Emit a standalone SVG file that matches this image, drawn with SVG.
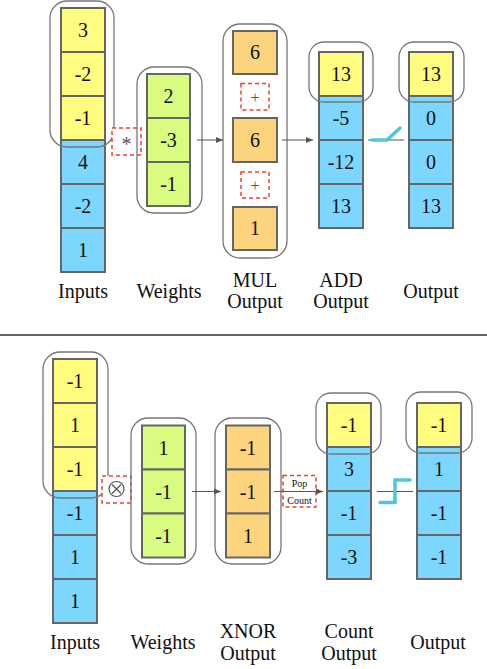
<svg xmlns="http://www.w3.org/2000/svg" width="487" height="669" viewBox="0 0 487 669" font-family="'Liberation Serif', 'Times New Roman', serif">
<defs>
<marker id="arr" markerWidth="8" markerHeight="8" refX="7" refY="4" orient="auto" markerUnits="userSpaceOnUse">
<path d="M0,1 L7,4 L0,7 Z" fill="#555"/>
</marker>
<style>
text{fill:#111;}
.v{font-size:20px;text-anchor:middle;}
.lbl{font-size:20px;text-anchor:middle;}
.y{fill:#FFFC80;stroke:#666;stroke-width:2;}
.b{fill:#7DD6FD;stroke:#666;stroke-width:2;}
.g{fill:#D8FB80;stroke:#666;stroke-width:2;}
.o{fill:#FDD47E;stroke:#666;stroke-width:2;}
.grp{fill:none;stroke:#777;stroke-width:1.3;}
.op{fill:#fff;stroke:#F04030;stroke-width:1.5;stroke-dasharray:4,3;}
.sym{fill:#555;text-anchor:middle;}
.con{stroke:#555;stroke-width:1;fill:none;}
.act{stroke:#4FC6DA;stroke-width:3.5;fill:none;stroke-linecap:round;stroke-linejoin:miter;}
</style>
</defs>

<g id="top-inputs">
<rect class="y" x="61" y="8" width="44" height="44"/>
<rect class="y" x="61" y="52" width="44" height="44"/>
<rect class="y" x="61" y="96" width="44" height="44"/>
<rect class="b" x="61" y="140" width="44" height="44"/>
<rect class="b" x="61" y="184" width="44" height="44"/>
<rect class="b" x="61" y="228" width="44" height="44"/>
<text class="v" x="83" y="37">3</text>
<text class="v" x="83" y="81">-2</text>
<text class="v" x="83" y="125">-1</text>
<text class="v" x="83" y="169">4</text>
<text class="v" x="83" y="213">-2</text>
<text class="v" x="83" y="257">1</text>
<rect class="grp" x="50" y="1" width="64" height="146" rx="17"/>
<text class="lbl" x="83" y="298">Inputs</text>
</g>

<g id="top-mul-op">
<rect class="op" x="112" y="128" width="29" height="27"/>
<text class="sym" x="126.5" y="151" font-size="20">*</text>
</g>

<g id="top-weights">
<rect class="g" x="147" y="74" width="43" height="44"/>
<rect class="g" x="147" y="118" width="43" height="44"/>
<rect class="g" x="147" y="162" width="43" height="44"/>
<text class="v" x="168.5" y="103">2</text>
<text class="v" x="168.5" y="147">-3</text>
<text class="v" x="168.5" y="191">-1</text>
<rect class="grp" x="137" y="67" width="65" height="146" rx="17"/>
<text class="lbl" x="169" y="298">Weights</text>
</g>

<g id="top-mul-output">
<rect class="o" x="233" y="31" width="44" height="43"/>
<rect class="o" x="233" y="118" width="44" height="44"/>
<rect class="o" x="233" y="207" width="44" height="43"/>
<text class="v" x="255" y="59">6</text>
<text class="v" x="255" y="147">6</text>
<text class="v" x="255" y="235">1</text>
<rect class="op" x="241" y="83.5" width="28" height="26.5"/>
<text class="sym" x="255" y="103" font-size="16">+</text>
<rect class="op" x="241" y="172" width="28" height="26"/>
<text class="sym" x="255" y="191" font-size="16">+</text>
<rect class="grp" x="223" y="24" width="64" height="234" rx="17"/>
<text class="lbl" x="255" y="287">MUL</text>
<text class="lbl" x="255" y="308">Output</text>
</g>

<g id="top-add-output">
<rect class="y" x="319" y="52" width="44" height="44"/>
<rect class="b" x="319" y="96" width="44" height="44"/>
<rect class="b" x="319" y="140" width="44" height="44"/>
<rect class="b" x="319" y="184" width="44" height="44"/>
<text class="v" x="341" y="81">13</text>
<text class="v" x="341" y="125">-5</text>
<text class="v" x="341" y="169">-12</text>
<text class="v" x="341" y="213">13</text>
<rect class="grp" x="309" y="42" width="64" height="60" rx="15"/>
<text class="lbl" x="341" y="287">ADD</text>
<text class="lbl" x="341" y="308">Output</text>
</g>

<g id="top-output">
<rect class="y" x="409" y="52" width="44" height="44"/>
<rect class="b" x="409" y="96" width="44" height="44"/>
<rect class="b" x="409" y="140" width="44" height="44"/>
<rect class="b" x="409" y="184" width="44" height="44"/>
<text class="v" x="431" y="81">13</text>
<text class="v" x="431" y="125">0</text>
<text class="v" x="431" y="169">0</text>
<text class="v" x="431" y="213">13</text>
<rect class="grp" x="399" y="42" width="65" height="60" rx="15"/>
<text class="lbl" x="431" y="298">Output</text>
</g>

<line id="separator" x1="0" y1="335" x2="487" y2="335" stroke="#333" stroke-width="1.5"/>

<g id="bot-inputs">
<rect class="y" x="53" y="359" width="44" height="44"/>
<rect class="y" x="53" y="403" width="44" height="44"/>
<rect class="y" x="53" y="447" width="44" height="44"/>
<rect class="b" x="53" y="491" width="44" height="44"/>
<rect class="b" x="53" y="535" width="44" height="44"/>
<rect class="b" x="53" y="579" width="44" height="44"/>
<text class="v" x="75" y="388">-1</text>
<text class="v" x="75" y="432">1</text>
<text class="v" x="75" y="476">-1</text>
<text class="v" x="75" y="520">-1</text>
<text class="v" x="75" y="564">1</text>
<text class="v" x="75" y="608">1</text>
<rect class="grp" x="43" y="352" width="65" height="146" rx="17"/>
<text class="lbl" x="75" y="649">Inputs</text>
</g>

<g id="bot-xnor-op">
<rect class="op" x="102" y="476" width="29" height="27"/>
<circle cx="116.5" cy="489" r="7.5" fill="none" stroke="#555" stroke-width="1.2"/>
<path d="M112,484.5 L121,493.5 M121,484.5 L112,493.5" stroke="#555" stroke-width="1.2"/>
</g>

<g id="bot-weights">
<rect class="g" x="142" y="425.5" width="43" height="44"/>
<rect class="g" x="142" y="469.5" width="43" height="44"/>
<rect class="g" x="142" y="513.5" width="43" height="44"/>
<text class="v" x="163.5" y="454.5">1</text>
<text class="v" x="163.5" y="498.5">-1</text>
<text class="v" x="163.5" y="542.5">-1</text>
<rect class="grp" x="131" y="418" width="65" height="146" rx="17"/>
<text class="lbl" x="163" y="649">Weights</text>
</g>

<g id="bot-xnor-output">
<rect class="o" x="226" y="425.5" width="44" height="44"/>
<rect class="o" x="226" y="469.5" width="44" height="44"/>
<rect class="o" x="226" y="513.5" width="44" height="44"/>
<text class="v" x="248" y="454.5">-1</text>
<text class="v" x="248" y="498.5">-1</text>
<text class="v" x="248" y="542.5">1</text>
<rect class="grp" x="215" y="418" width="66" height="146" rx="17"/>
<text class="lbl" x="248" y="638">XNOR</text>
<text class="lbl" x="248" y="660">Output</text>
</g>

<g id="bot-popcount-op">
<rect class="op" x="283" y="475.5" width="33" height="31.5"/>
<text x="299.5" y="487" font-size="10" text-anchor="middle" fill="#222">Pop</text>
<text x="299.5" y="504" font-size="10" text-anchor="middle" fill="#222">Count</text>
</g>

<g id="bot-count-output">
<rect class="y" x="327" y="403" width="44" height="44"/>
<rect class="b" x="327" y="447" width="44" height="44"/>
<rect class="b" x="327" y="491" width="44" height="44"/>
<rect class="b" x="327" y="535" width="44" height="44"/>
<text class="v" x="349" y="432">-1</text>
<text class="v" x="349" y="476">3</text>
<text class="v" x="349" y="520">-1</text>
<text class="v" x="349" y="564">-3</text>
<rect class="grp" x="316" y="393" width="65" height="61" rx="15"/>
<text class="lbl" x="349" y="638">Count</text>
<text class="lbl" x="349" y="660">Output</text>
</g>

<g id="bot-output">
<rect class="y" x="417" y="403" width="44" height="44"/>
<rect class="b" x="417" y="447" width="44" height="44"/>
<rect class="b" x="417" y="491" width="44" height="44"/>
<rect class="b" x="417" y="535" width="44" height="44"/>
<text class="v" x="439" y="432">-1</text>
<text class="v" x="439" y="476">1</text>
<text class="v" x="439" y="520">-1</text>
<text class="v" x="439" y="564">-1</text>
<rect class="grp" x="406" y="392" width="66" height="61" rx="15"/>
<text class="lbl" x="438" y="649">Output</text>
</g>

<g id="connectors">
<line class="con" x1="197" y1="140" x2="223" y2="140" marker-end="url(#arr)"/>
<line class="con" x1="282" y1="140" x2="313" y2="140" marker-end="url(#arr)"/>
<line class="con" x1="368" y1="140" x2="404" y2="140" stroke="#999" stroke-width="1.5"/>
<path class="act" d="M372,140 L387,140 L400,128"/>
<line class="con" x1="192" y1="491.5" x2="221" y2="491.5" marker-end="url(#arr)"/>
<line class="con" x1="274" y1="491.5" x2="323" y2="491.5" marker-end="url(#arr)"/>
<line class="con" x1="377" y1="491.5" x2="413" y2="491.5" stroke="#999" stroke-width="1.5"/>
<path class="act" d="M380,502.5 L395,502.5 L395,480 L410,480"/>
</g>
</svg>
